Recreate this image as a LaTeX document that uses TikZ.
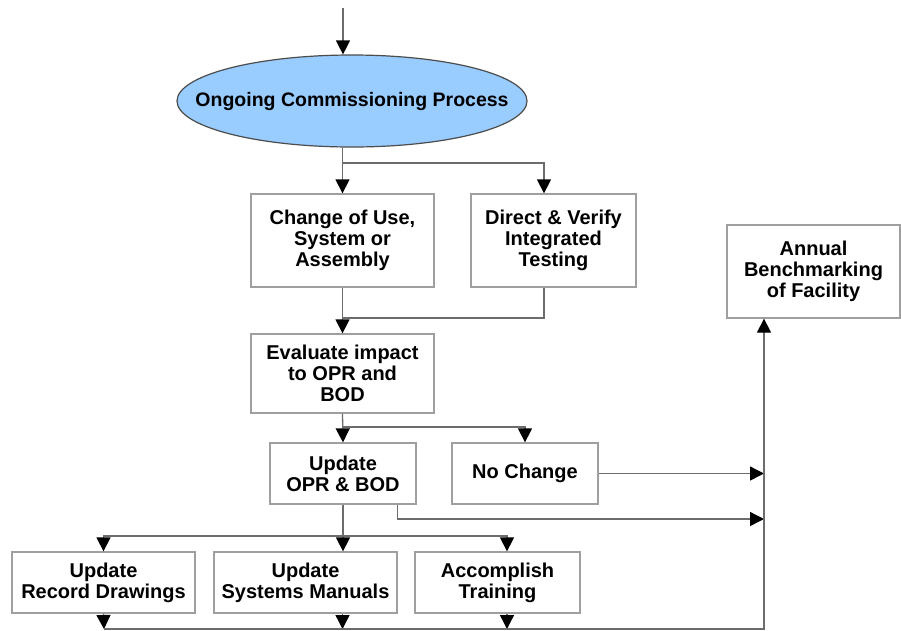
\documentclass[tikz,border=0pt]{standalone}
\usepackage{fontspec}
\setmainfont{Liberation Sans}
\usetikzlibrary{shapes.geometric,arrows.meta}

\begin{document}
\begin{tikzpicture}[x=1pt,y=-1pt,
  box/.style={draw=gray!75, line width=1.3pt, inner sep=0pt, align=center,
    font=\bfseries\fontsize{20}{21}\selectfont},
  wire/.style={draw=gray!85!black, line width=1.3pt},
  arr/.style={wire, -{Triangle[length=14pt,width=14pt,color=black]}}]
  \useasboundingbox (0,0) rectangle (901,630);

  \node (ongoing) [ellipse, draw=gray!60!black, line width=1.2pt, fill={rgb,255:red,153;green,204;blue,255},
    minimum width=350pt, minimum height=92pt, inner xsep=-37pt, inner ysep=0pt,
    font=\bfseries\fontsize{19.5}{21}\selectfont] at (352,101) {Ongoing Commissioning Process};

  \node (change)   [box, minimum width=183pt, minimum height=93pt] at (342.5,240.5) {Change of Use,\\System or\\Assembly};
  \node (direct)   [box, minimum width=165pt, minimum height=93pt] at (553.5,240.5) {Direct \& Verify\\Integrated\\Testing};
  \node (annual)   [box, minimum width=173pt, minimum height=93pt] at (813.5,271.5) {Annual\\Benchmarking\\of Facility};
  \node (evaluate) [box, minimum width=183pt, minimum height=79pt] at (342.5,373.5) {Evaluate impact\\to OPR and\\BOD};
  \node (updopr)   [box, minimum width=146pt, minimum height=61pt] at (343,473.5) {Update\\OPR \& BOD};
  \node (nochange) [box, minimum width=146pt, minimum height=61pt] at (525,473.5) {No Change};
  \node (record)   [box, minimum width=183pt, minimum height=61pt] at (103.5,582.5) {Update\\Record Drawings};
  \node (manuals)  [box, minimum width=183pt, minimum height=61pt] at (305.5,582.5) {Update\\Systems Manuals};
  \node (training) [box, minimum width=165pt, minimum height=61pt] at (497.5,582.5) {Accomplish\\Training};

  % junctions
  \coordinate (start) at (343,8);
  \coordinate (j1) at (342.5,163);
  \coordinate (j2) at (342.5,318);
  \coordinate (j3) at (342.5,427);
  \coordinate (j4) at (343,536);
  \coordinate (r1) at (764,519);
  \coordinate (b1) at (104,629);
  \coordinate (b2) at (764,629);

  \draw[arr] (start) -- (start |- ongoing.north);
  \draw[arr] (ongoing.south -| change.north) -- (change.north);
  \draw[arr] (j1) -| ([xshift=-9.5pt]direct.north);
  \draw[arr] (change.south) -- (evaluate.north);
  \draw[wire] ([xshift=-9.5pt]direct.south) |- (j2);
  \draw[arr] (evaluate.south) -- (updopr.north);
  \draw[arr] (j3) -| (nochange.north);
  \draw[arr] (nochange.east) -- (nochange.east -| b2);
  \draw[arr] ([xshift=-19pt]updopr.south east) |- (r1);
  \draw[arr] (updopr.south) -- (updopr.south |- manuals.north);
  \draw[arr] (j4) -| (record.north);
  \draw[arr] (j4) -| ([xshift=9.5pt]training.north);
  \draw[arr] (record.south) -- (b1);
  \draw[arr] ([xshift=37pt]manuals.south) -- ([xshift=37pt]manuals.south |- b1);
  \draw[arr] ([xshift=9.5pt]training.south) -- ([xshift=9.5pt]training.south |- b1);
  \draw[arr] (b1) -- (b2) -- (b2 |- annual.south);
\end{tikzpicture}
\end{document}
